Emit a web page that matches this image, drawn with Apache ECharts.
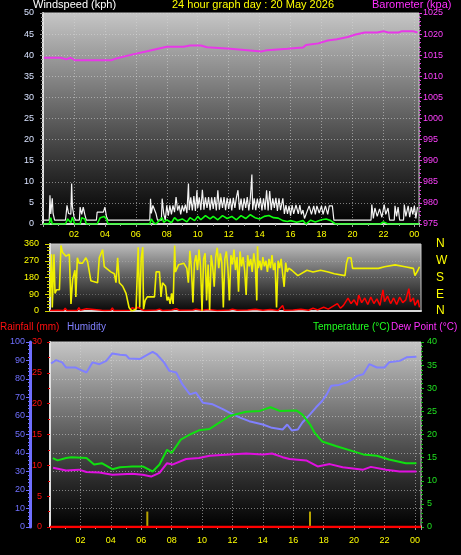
<!DOCTYPE html>
<html><head><meta charset="utf-8">
<script src="https://cdn.jsdelivr.net/npm/echarts@6/dist/echarts.min.js"></script>
<style>html,body{margin:0;padding:0;background:#000;}#c{width:461px;height:555px;}</style>
</head><body><div id="c"></div>
<script>
// ---------- DATA ----------
const titleText = '24 hour graph day : 20 May 2026';
const compassLabels = {0:'N',90:'E',180:'S',270:'W',360:'N'};

// wind gust (kph) [hour, value]
const gustData = [
[0,0.9],[0.4,0.9],[0.45,6.8],[0.5,2.4],[0.6,6.1],[0.65,2.5],[0.75,0.9],[1.45,0.9],[1.5,2.5],[1.55,4.4],[1.65,2.5],[1.8,2.3],[1.85,9.6],[1.9,4.1],[2.0,1.8],[2.1,0.9],[2.35,0.9],[2.4,4],[2.5,2.3],[2.6,4],[2.7,2.3],[2.8,0.9],[3.45,0.9],[3.5,2.8],[3.9,2.8],[4.0,4],[4.1,1.8],[4.2,0.9],[6.9,0.9],[6.95,6],[7.0,2.5],[7.1,4.4],[7.3,2.5],[7.4,0.9],[7.65,0.9],[7.7,6],[7.8,2.5],[7.9,0.9],[8.0,4.4],[8.1,2],[8.2,4.4],[8.3,2.3],[8.4,4.4],[8.5,2.8],[8.6,6.4],[8.7,3.2],[8.8,4.4],[8.9,2.3],[9.0,4.4],[9.1,3],[9.2,4.6],[9.3,2.6],[9.4,9.6],[9.45,3.3],[9.55,6.3],[9.65,3.2],[9.75,6.6],[9.85,3.1],[9.95,8],[10.0,3.8],[10.1,6.3],[10.2,3.3],[10.3,8.1],[10.4,3.4],[10.5,6.3],[10.6,3.8],[10.7,6.4],[10.8,3.3],[10.9,6.3],[11.0,3.6],[11.1,6.4],[11.2,3.2],[11.3,8],[11.4,3.4],[11.5,6.3],[11.6,3.8],[11.7,6.4],[11.8,3.3],[11.9,6.2],[12.0,3.6],[12.1,6.1],[12.2,3.2],[12.3,6.2],[12.4,3.8],[12.5,6.3],[12.6,8],[12.7,3.4],[12.8,6],[12.9,3.2],[13.0,6.1],[13.1,3.8],[13.2,6.4],[13.3,3.2],[13.4,6.2],[13.5,11.7],[13.55,3.4],[13.65,6.1],[13.75,3.3],[13.85,6],[13.95,3.8],[14.05,6.2],[14.15,3.2],[14.25,6.1],[14.35,3.4],[14.45,8],[14.55,3.2],[14.65,7.8],[14.75,3.3],[14.85,6.1],[14.95,3.8],[15.05,6.2],[15.15,3.1],[15.25,6.1],[15.35,3.3],[15.5,6.1],[15.6,2.4],[15.7,4.5],[15.8,2.4],[15.9,4.3],[16.0,2],[16.1,4.5],[16.2,2.4],[16.35,4.5],[16.5,2.4],[16.6,4.5],[16.7,2.3],[16.8,3.3],[16.9,1.3],[17.0,1.3],[17.2,4.3],[17.35,2.3],[17.5,4.3],[17.6,2.3],[17.7,4.3],[17.85,2.6],[18.0,4.3],[18.1,2.3],[18.25,4.3],[18.4,2.3],[18.5,4.3],[18.7,4.3],[18.8,0.9],[21.2,0.9],[21.25,4.6],[21.35,1.3],[21.45,3.8],[21.6,1.8],[21.75,3.6],[21.9,1.6],[22.05,4.6],[22.15,2.3],[22.3,3.8],[22.4,0.9],[22.7,0.9],[22.75,4.3],[22.85,1.8],[22.95,4],[23.05,0.9],[23.3,0.9],[23.35,4.6],[23.45,1.8],[23.6,4.3],[23.7,1.6],[23.8,4],[23.9,2.3],[24.0,4.3],[24.1,1.3],[24.2,4]
];
// average wind (kph)
const avgWindData = [
[0,0],[0.4,0],[0.5,1.5],[0.6,0],[1.45,0],[1.6,1.2],[1.8,0.3],[1.9,1.6],[2.05,0],[2.4,0],[2.5,1.5],[2.7,1.2],[2.8,0],[3.5,0],[3.7,1.5],[3.95,1.8],[4.1,1.2],[4.2,0],[6.9,0],[7.0,1.2],[7.15,0.3],[7.3,0],[7.7,1.5],[7.8,0.4],[8.0,1],[8.3,0.3],[8.5,1.5],[8.7,0.8],[9.0,1.2],[9.3,0.5],[9.5,1.5],[9.8,0.8],[10.0,1.8],[10.2,1],[10.5,2],[10.8,1.2],[11.0,1.8],[11.3,1],[11.6,2],[11.9,1.3],[12.2,1.8],[12.5,1.0],[12.8,2.0],[13.1,1.3],[13.4,2.2],[13.7,1.5],[14.0,1.2],[14.3,1.8],[14.6,2.0],[14.9,1.5],[15.2,1.4],[15.5,0.8],[15.8,0.6],[16.0,0.8],[16.4,0.4],[16.8,0.8],[17.0,0],[17.3,0.9],[17.6,0.5],[18.0,1],[18.3,1.2],[18.6,0.8],[18.9,0],[21.8,0],[22.0,0.5],[22.1,0.8],[22.3,0],[24.3,0]
];
// barometer (kpa scale as labelled)
const baroData = [
[0.05,1014.4],[1.15,1014.4],[1.5,1014.0],[1.8,1014.4],[2.05,1013.8],[4.4,1013.8],[4.8,1014.3],[5.8,1015.2],[6.8,1016.0],[8.0,1017.0],[9.1,1017.0],[9.5,1017.3],[10.2,1017.3],[10.6,1016.9],[12.1,1016.5],[13.2,1016.2],[14.1,1015.9],[14.5,1016.2],[15.8,1016.5],[15.9,1016.8],[16.8,1016.8],[17.0,1017.4],[17.8,1017.8],[18.4,1018.5],[19.0,1018.8],[19.7,1019.3],[20.2,1019.9],[20.8,1020.4],[21.6,1020.4],[22.0,1020.7],[22.3,1020.4],[23.0,1020.4],[23.2,1020.7],[23.9,1020.7],[24.2,1020.4]
];
// wind direction (deg)
const dirData = [
[0.0,76],[0.1,305],[0.15,19],[0.2,152],[0.26,305],[0.33,95],[0.43,114],[0.62,114],[0.72,352],[0.83,314],[1.05,295],[1.27,305],[1.38,38],[1.49,171],[1.64,219],[1.7,76],[1.8,286],[1.92,257],[2.14,257],[2.36,286],[2.47,267],[2.69,162],[3.13,152],[3.24,286],[3.46,330],[3.57,238],[4.0,210],[4.23,200],[4.34,152],[4.45,286],[4.56,152],[4.78,133],[5.0,95],[5.2,19],[5.37,0],[5.66,10],[5.8,343],[5.9,19],[6.0,286],[6.1,343],[6.15,10],[6.26,57],[6.4,76],[6.87,76],[6.98,210],[7.2,210],[7.3,76],[7.4,152],[7.6,133],[7.7,57],[7.8,76],[7.9,38],[8.0,95],[8.1,38],[8.2,352],[8.25,210],[8.45,248],[8.8,257],[9.0,229],[9.1,152],[9.2,324],
[9.3,230],[9.4,46],[9.5,260],[9.6,300],[9.7,220],[9.8,330],[9.9,240],[10.0,0],[10.1,280],[10.2,310],[10.3,57],[10.4,250],[10.5,5],[10.6,300],[10.7,240],[10.8,131],[10.9,290],[11.0,340],[11.1,230],[11.2,310],[11.3,260],[11.4,19],[11.5,280],[11.6,320],[11.7,230],[11.8,57],[11.9,300],[12.0,250],[12.1,330],[12.2,220],[12.3,290],[12.4,103],[12.5,320],[12.6,240],[12.7,290],[12.8,220],[12.9,86],[13.0,300],[13.1,240],[13.2,280],[13.3,210],[13.4,310],[13.5,250],[13.6,57],[13.65,348],[13.7,230],[13.8,270],[13.9,220],[14.0,290],[14.1,240],[14.2,270],[14.3,210],[14.4,280],[14.5,230],[14.6,300],[14.7,220],[14.8,260],[14.9,19],[15.0,270],[15.1,230],[15.2,280],[15.3,200],[15.4,130],[15.5,260],[15.6,210],[15.7,230],
[15.9,219],[16.3,190],[16.9,219],[17.3,210],[17.8,219],[18.3,210],[18.7,200],[19.4,190],[19.5,257],[19.6,286],[19.8,286],[19.9,229],[20.7,229],[21.6,229],[22.0,238],[22.7,248],[23.35,238],[23.9,229],[24.0,190],[24.2,219],[24.3,238]
];
// wind speed trace in direction panel (red)
const dirSpeedData = [
[0,3],[0.5,4],[0.9,3],[1.0,15],[1.1,3],[1.8,3],[1.9,18],[2.0,4],[2.4,12],[2.5,3],[3.4,4],[3.5,14],[3.6,3],[4.0,4],[4.1,16],[4.2,3],[5.3,4],[5.4,18],[5.6,12],[5.8,20],[6.0,8],[6.2,3],[7.0,5],[7.2,10],[7.4,3],[8.0,5],[8.3,12],[8.5,4],[9.4,5],[9.6,10],[10.0,4],[10.4,8],[11.0,3],[11.8,5],[12.0,10],[12.3,4],[13.0,6],[13.5,10],[14.0,4],[14.5,8],[15.0,3],[15.3,29],[15.4,4],[16.0,5],[16.5,10],[17.0,4],[17.3,15],[17.6,6],[18.0,20],[18.3,10],[18.6,25],[18.9,40],[19.1,15],[19.3,30],[19.6,69],[19.8,40],[20.0,60],[20.2,30],[20.3,86],[20.5,45],[20.7,70],[20.9,35],[21.1,75],[21.3,40],[21.5,65],[21.7,30],[21.9,114],[22.0,50],[22.2,80],[22.4,40],[22.6,70],[22.8,35],[23.0,75],[23.2,45],[23.4,60],[23.6,120],[23.7,50],[23.9,70],[24.0,30],[24.2,60],[24.3,20]
];
// rainfall (mm)
const rainData = [[0,0],[24.4,0]];
const rainRateData = [[6.4,2.5],[17.1,2.5]];
// humidity (%)
const humData = [
[0.07,88.4],[0.4,90.2],[0.8,89],[1.06,86.2],[1.7,86.2],[1.9,85.3],[2.4,83.5],[2.8,89],[3.25,88],[3.7,89.8],[4.1,93.8],[4.6,93.1],[5.0,92.9],[5.2,91.1],[5.9,90.8],[6.3,92.6],[6.75,94.7],[7.0,93.5],[7.5,89],[7.85,84.4],[8.3,83.5],[8.7,77.2],[9.2,71.7],[9.6,72.7],[10.05,67.2],[10.7,66.3],[11.4,63.6],[11.8,61.8],[12.5,59.1],[13.1,57.2],[14.0,55.4],[14.6,53.6],[15.3,52.7],[15.6,55.4],[15.9,52.2],[16.3,52.7],[16.6,56.5],[17.1,60.9],[17.5,64.7],[17.9,68.1],[18.2,71.7],[18.5,76.3],[19.0,76.8],[19.5,78.1],[19.9,79.9],[20.2,81.7],[20.6,82.6],[21.0,88],[21.5,86.2],[22.0,86.2],[22.3,89],[23.0,89.8],[23.45,91.7],[24.1,92]
];
// temperature (°C)
const tempData = [
[0.18,14.9],[0.5,14.4],[1.06,14.9],[1.4,15.1],[2.4,14.9],[2.9,13.5],[3.4,13.8],[4.1,12.5],[4.6,12.9],[5.0,13],[5.4,13.1],[6.1,13.1],[6.75,12],[7.2,13.5],[7.7,16.7],[8.0,16],[8.6,18.9],[9.2,20],[9.8,20.9],[10.5,21.2],[11.8,24],[12.9,24.9],[13.8,25.1],[14.5,25.9],[15.1,25.1],[16.2,25.2],[16.6,24.3],[17.1,22.2],[17.4,20.4],[17.9,18.5],[18.8,17.5],[19.9,16.4],[20.6,15.7],[21.5,15.4],[22.3,14.6],[23.4,13.8],[24.1,13.8]
];
// dew point (°C)
const dewData = [
[0.2,12.8],[1.06,12.2],[1.9,12.4],[2.4,11.9],[3.25,11.8],[4.1,11.3],[5.4,11.5],[6.1,11.3],[6.65,10.9],[7.2,11.7],[7.7,13.8],[8.05,13.5],[8.95,14.7],[9.8,14.9],[10.5,15.4],[11.8,15.7],[12.9,15.9],[14.0,15.7],[14.6,15.9],[15.3,15.1],[15.75,14.7],[16.85,14.4],[17.6,13.1],[18.4,13.6],[19.25,12.9],[20.6,12.4],[21.1,13],[22.1,12.4],[23.0,12],[24.1,12]
];

// ---------- CHART ----------
const chart = echarts.init(document.getElementById('c'), null, {renderer:'canvas'});
const FONT = 'Liberation Sans';
function grad(stops){return {type:'linear',x:0,y:0,x2:0,y2:1,colorStops:stops.map(s=>({offset:s[0],color:s[1]}))};}
function hourFmt(v){ if (v<=0.001 || v>24.01 || Math.abs(v%2)>0.001) return ''; const h=Math.round(v)%24; return (h<10?'0':'')+h; }
const plainFmt = v => String(v);
const gridLine = {show:true,lineStyle:{color:'rgba(215,215,215,0.55)',type:[1,2],width:1}};

const option = {
  backgroundColor:'#000',
  animation:false,
  grid:[
    {left:43,right:42,top:13,bottom:331,show:true,borderWidth:1,borderColor:'#c8c8c8',
     backgroundColor:grad([[0,'#c6c6c6'],[0.45,'#686868'],[0.75,'#2c2c2c'],[1,'#000000']])},
    {left:50,right:40,top:244,bottom:244,show:true,borderWidth:1,borderColor:'#c8c8c8',
     backgroundColor:grad([[0,'#bebebe'],[0.5,'#5a5a5a'],[1,'#080808']])},
    {left:50,right:40,top:342,bottom:28,show:true,borderWidth:1,borderColor:'#c8c8c8',
     backgroundColor:grad([[0,'#c6c6c6'],[0.45,'#666666'],[0.75,'#2a2a2a'],[1,'#000000']])}
  ],
  xAxis:[
    {gridIndex:0,type:'value',min:0,max:24.3,interval:2,
     axisLine:{show:true,lineStyle:{color:'#d8d8d8',width:2}},
     axisTick:{show:true,length:3,lineStyle:{color:'#a0a0a0'}},
     minorTick:{show:true,splitNumber:2,length:2,lineStyle:{color:'#a0a0a0'}},
     axisLabel:{color:'#ffff00',fontSize:9,fontFamily:FONT,margin:6,formatter:hourFmt,showMinLabel:true,showMaxLabel:true},
     splitLine:gridLine},
    {gridIndex:1,type:'value',min:0,max:24.4,interval:2,
     axisLine:{show:true,lineStyle:{color:'#d8d8d8',width:2}},
     axisTick:{show:false},axisLabel:{show:false},splitLine:{show:false}},
    {gridIndex:2,type:'value',min:0,max:24.4,interval:2,
     axisLine:{show:true,lineStyle:{color:'#d8d8d8',width:2}},
     axisTick:{show:true,length:3,lineStyle:{color:'#a0a0a0'}},
     minorTick:{show:true,splitNumber:2,length:2,lineStyle:{color:'#a0a0a0'}},
     axisLabel:{color:'#ffff00',fontSize:9,fontFamily:FONT,margin:9,formatter:hourFmt},
     splitLine:gridLine}
  ],
  yAxis:[
    {gridIndex:0,type:'value',min:0,max:50,interval:5,position:'left',
     axisLine:{show:true,lineStyle:{color:'#e0e0e0',width:2}},
     axisTick:{show:true,length:3,lineStyle:{color:'#909090'}},
     minorTick:{show:true,splitNumber:5,length:2,lineStyle:{color:'#909090'}},
     axisLabel:{color:'#d8e2ff',fontSize:9,fontFamily:FONT,margin:9,formatter:plainFmt},
     splitLine:gridLine},
    {gridIndex:0,type:'value',min:975,max:1025,interval:5,position:'right',
     axisLine:{show:false},
     axisTick:{show:true,length:3,lineStyle:{color:'#e040e0'}},
     minorTick:{show:true,splitNumber:5,length:2,lineStyle:{color:'#e040e0'}},
     axisLabel:{color:'#ff40ff',fontSize:9,fontFamily:FONT,margin:4,formatter:plainFmt},
     splitLine:{show:false}},
    {gridIndex:1,type:'value',min:0,max:360,interval:90,position:'left',
     axisLine:{show:true,lineStyle:{color:'#e0e0e0',width:2}},
     axisTick:{show:true,length:5,lineStyle:{color:'#d0d000'}},
     minorTick:{show:true,splitNumber:5,length:3,lineStyle:{color:'#d0d000'}},
     axisLabel:{color:'#ffff00',fontSize:9,fontFamily:FONT,margin:11,formatter:plainFmt},
     splitLine:{show:true,lineStyle:{color:'rgba(200,200,200,0.35)',type:[1,2]}}},
    {gridIndex:1,type:'value',min:0,max:360,interval:90,position:'right',
     axisLine:{show:false},axisTick:{show:false},splitLine:{show:false},
     axisLabel:{color:'#ffff00',fontSize:12,fontFamily:FONT,margin:15,formatter:v=>compassLabels[v]||''}},
    {gridIndex:2,type:'value',min:0,max:30,interval:5,position:'left',
     axisLine:{show:true,lineStyle:{color:'#e0e0e0',width:2}},
     axisTick:{show:true,length:3,lineStyle:{color:'#e00000'}},
     minorTick:{show:true,splitNumber:2,length:2,lineStyle:{color:'#e00000'}},
     axisLabel:{color:'#ff1010',fontSize:9,fontFamily:FONT,margin:8,formatter:plainFmt},
     splitLine:{show:false}},
    {gridIndex:2,type:'value',min:0,max:100,interval:10,position:'left',offset:20,
     axisLine:{show:true,lineStyle:{color:'#6e6eff',width:3}},
     axisTick:{show:true,length:4,lineStyle:{color:'#6e6eff'}},
     minorTick:{show:true,splitNumber:5,length:2,lineStyle:{color:'#6e6eff'}},
     axisLabel:{color:'#7070ff',fontSize:9,fontFamily:FONT,margin:5,formatter:plainFmt},
     splitLine:gridLine},
    {gridIndex:2,type:'value',min:0,max:40,interval:5,position:'right',
     axisLine:{show:false},
     axisTick:{show:true,length:3,lineStyle:{color:'#10c010'}},
     minorTick:{show:true,splitNumber:5,length:2,lineStyle:{color:'#10c010'}},
     axisLabel:{color:'#20e020',fontSize:9,fontFamily:FONT,margin:6,formatter:plainFmt},
     splitLine:{show:false}}
  ],
  graphic:[
    {type:'text',left:33,top:-1,style:{text:'Windspeed (kph)',fill:'#ffffff',font:'11px '+FONT}},
    {type:'text',left:172,top:-1,style:{text:titleText,fill:'#ffff00',font:'11px '+FONT}},
    {type:'text',left:372,top:-1,style:{text:'Barometer (kpa)',fill:'#ff30ff',font:'11px '+FONT}},
    {type:'text',left:0,top:322,style:{text:'Rainfall (mm)',fill:'#ff1010',font:'10px '+FONT}},
    {type:'text',left:67,top:322,style:{text:'Humidity',fill:'#8080ff',font:'10px '+FONT}},
    {type:'text',left:313,top:322,style:{text:'Temperature (°C)',fill:'#20ff20',font:'10px '+FONT}},
    {type:'text',left:391,top:322,style:{text:'Dew Point (°C)',fill:'#ff30ff',font:'10px '+FONT}}
  ],
  series:[
    {type:'line',xAxisIndex:0,yAxisIndex:0,data:gustData,showSymbol:false,lineStyle:{color:'#f4f4f4',width:1.2},z:3},
    {type:'line',xAxisIndex:0,yAxisIndex:0,data:avgWindData,showSymbol:false,lineStyle:{color:'#10ff10',width:1.6},z:4},
    {type:'line',xAxisIndex:0,yAxisIndex:1,data:baroData,showSymbol:false,lineStyle:{color:'#e838e8',width:2},z:5},
    {type:'line',xAxisIndex:1,yAxisIndex:2,data:dirSpeedData,showSymbol:false,lineStyle:{color:'#ff0000',width:1.5},z:3},
    {type:'line',xAxisIndex:1,yAxisIndex:2,data:dirData,showSymbol:false,lineStyle:{color:'#f0f000',width:1.6},z:4},
    {type:'bar',xAxisIndex:2,yAxisIndex:4,data:rainRateData,barWidth:2,itemStyle:{color:'#b8a400'},z:2},
    {type:'line',xAxisIndex:2,yAxisIndex:4,data:rainData,showSymbol:false,lineStyle:{color:'#ff0000',width:2.5},z:6},
    {type:'line',xAxisIndex:2,yAxisIndex:5,data:humData,showSymbol:false,lineStyle:{color:'#8080ff',width:2},z:3},
    {type:'line',xAxisIndex:2,yAxisIndex:6,data:tempData,showSymbol:false,lineStyle:{color:'#10e010',width:2},z:4},
    {type:'line',xAxisIndex:2,yAxisIndex:6,data:dewData,showSymbol:false,lineStyle:{color:'#e010e0',width:2},z:4}
  ]
};
chart.setOption(option);
</script>
</body></html>
